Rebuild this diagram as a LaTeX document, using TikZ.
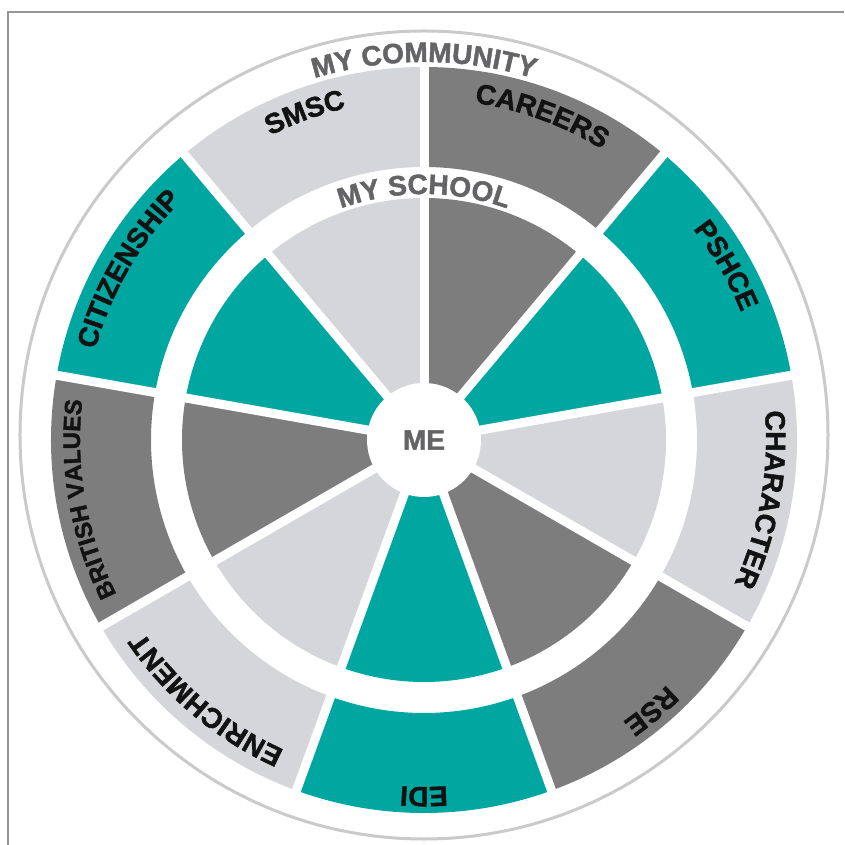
\documentclass[tikz,border=0pt]{standalone}
\usepackage{fontspec}
\setmainfont{Liberation Sans}[BoldFeatures={FakeBold=1.6}]
\usepackage{tikz}
\usepackage{xcolor}
\usetikzlibrary{decorations.text}

\newcommand{\ringfont}{\fontsize{28}{30}\selectfont\bfseries}
\newcommand{\smallringfont}{\fontsize{24}{26}\selectfont\bfseries}

\tikzset{
	gap/.style={line width=9pt, color=white},
	ringlabel/.style={decorate, decoration={text along path, text align=center}}
}

\begin{document}
\begin{tikzpicture}
				\definecolor{TEAL}{RGB}{0, 166, 160}
				\definecolor{DARK_GRAY}{RGB}{125, 125, 125}
				\definecolor{LIGHT_GRAY}{RGB}{213, 214, 217}
				\definecolor{RING_GRAY}{RGB}{202, 202, 202}
				\definecolor{FRAME_GRAY}{RGB}{150, 150, 150}
				\definecolor{TEXT_GRAY}{RGB}{100, 100, 102}
				\definecolor{ALMOST_BLACK}{RGB}{18, 18, 18}
				\useasboundingbox (-424pt, -405pt) rectangle (420pt, 440pt);

				% frame and outer ring
				\draw[line width={1.2pt}, color={FRAME_GRAY}] (-416pt, -405pt) -- (-416pt, 428pt) -- (420pt, 428pt);
				\draw[line width={3pt}, color={RING_GRAY}] (0pt, 5pt) circle[radius=404pt];

				% my community
				\fill[DARK_GRAY] (90:273pt) arc[start angle=90, end angle=50, radius=273pt] -- (50:373pt) arc[start angle=50, end angle=90, radius=373pt] -- cycle;
				\fill[TEAL] (50:273pt) arc[start angle=50, end angle=10, radius=273pt] -- (10:373pt) arc[start angle=10, end angle=50, radius=373pt] -- cycle;
				\fill[LIGHT_GRAY] (10:273pt) arc[start angle=10, end angle=-30, radius=273pt] -- (-30:373pt) arc[start angle=-30, end angle=10, radius=373pt] -- cycle;
				\fill[DARK_GRAY] (-30:273pt) arc[start angle=-30, end angle=-70, radius=273pt] -- (-70:373pt) arc[start angle=-70, end angle=-30, radius=373pt] -- cycle;
				\fill[TEAL] (-70:273pt) arc[start angle=-70, end angle=-110, radius=273pt] -- (-110:373pt) arc[start angle=-110, end angle=-70, radius=373pt] -- cycle;
				\fill[LIGHT_GRAY] (-110:273pt) arc[start angle=-110, end angle=-150, radius=273pt] -- (-150:373pt) arc[start angle=-150, end angle=-110, radius=373pt] -- cycle;
				\fill[DARK_GRAY] (-150:273pt) arc[start angle=-150, end angle=-190, radius=273pt] -- (-190:373pt) arc[start angle=-190, end angle=-150, radius=373pt] -- cycle;
				\fill[TEAL] (170:273pt) arc[start angle=170, end angle=130, radius=273pt] -- (130:373pt) arc[start angle=130, end angle=170, radius=373pt] -- cycle;
				\fill[LIGHT_GRAY] (130:273pt) arc[start angle=130, end angle=90, radius=273pt] -- (90:373pt) arc[start angle=90, end angle=130, radius=373pt] -- cycle;

				% my school
				\fill[DARK_GRAY] (0pt, 0pt) -- (90:242pt) arc[start angle=90, end angle=50, radius=242pt] -- cycle;
				\fill[TEAL] (0pt, 0pt) -- (50:242pt) arc[start angle=50, end angle=10, radius=242pt] -- cycle;
				\fill[LIGHT_GRAY] (0pt, 0pt) -- (10:242pt) arc[start angle=10, end angle=-30, radius=242pt] -- cycle;
				\fill[DARK_GRAY] (0pt, 0pt) -- (-30:242pt) arc[start angle=-30, end angle=-70, radius=242pt] -- cycle;
				\fill[TEAL] (0pt, 0pt) -- (-70:242pt) arc[start angle=-70, end angle=-110, radius=242pt] -- cycle;
				\fill[LIGHT_GRAY] (0pt, 0pt) -- (-110:242pt) arc[start angle=-110, end angle=-150, radius=242pt] -- cycle;
				\fill[DARK_GRAY] (0pt, 0pt) -- (-150:242pt) arc[start angle=-150, end angle=-190, radius=242pt] -- cycle;
				\fill[TEAL] (0pt, 0pt) -- (170:242pt) arc[start angle=170, end angle=130, radius=242pt] -- cycle;
				\fill[LIGHT_GRAY] (0pt, 0pt) -- (130:242pt) arc[start angle=130, end angle=90, radius=242pt] -- cycle;

				% white gaps
				\draw[gap] (0pt, 0pt) -- (90:374pt);
				\draw[gap] (0pt, 0pt) -- (50:374pt);
				\draw[gap] (0pt, 0pt) -- (10:374pt);
				\draw[gap] (0pt, 0pt) -- (-30:374pt);
				\draw[gap] (0pt, 0pt) -- (-70:374pt);
				\draw[gap] (0pt, 0pt) -- (-110:374pt);
				\draw[gap] (0pt, 0pt) -- (-150:374pt);
				\draw[gap] (0pt, 0pt) -- (170:374pt);
				\draw[gap] (0pt, 0pt) -- (130:374pt);

				% me
				\fill[white] (0pt, 0pt) circle[radius=57pt];
				\node[text={TEXT_GRAY}, font={\fontsize{28}{30}\selectfont\bfseries}] (me) at (0pt, 0pt) {ME};

				% ring texts
				\path[ringlabel, decoration={text={|\ringfont\color{TEXT_GRAY}|MY COMMUNITY}}] (130:378pt) arc[start angle=130, end angle=50, radius=378pt];
				\path[ringlabel, decoration={text={|\ringfont\color{TEXT_GRAY}|MY SCHOOL}}] (130:246pt) arc[start angle=130, end angle=50, radius=246pt];

				% segment labels
				\path[ringlabel, decoration={text={|\ringfont\color{ALMOST_BLACK}|SMSC}}] (130:341pt) arc[start angle=130, end angle=90, radius=341pt];
				\path[ringlabel, decoration={text={|\ringfont\color{ALMOST_BLACK}|CAREERS}}] (90:341pt) arc[start angle=90, end angle=50, radius=341pt];
				\path[ringlabel, decoration={text={|\ringfont\color{ALMOST_BLACK}|PSHCE}}] (50:342pt) arc[start angle=50, end angle=10, radius=342pt];
				\path[ringlabel, decoration={text={|\ringfont\color{ALMOST_BLACK}|CHARACTER}}] (10:342pt) arc[start angle=10, end angle=-30, radius=342pt];
				\path[ringlabel, decoration={text={|\ringfont\color{ALMOST_BLACK}|RSE}}] (-30:345pt) arc[start angle=-30, end angle=-70, radius=345pt];
				\path[ringlabel, decoration={text={|\ringfont\color{ALMOST_BLACK}|EDI}}] (-70:347pt) arc[start angle=-70, end angle=-110, radius=347pt];
				\path[ringlabel, decoration={text={|\ringfont\color{ALMOST_BLACK}|ENRICHMENT}}] (-110:340pt) arc[start angle=-110, end angle=-150, radius=340pt];
				\path[ringlabel, decoration={text={|\smallringfont\color{ALMOST_BLACK}|BRITISH VALUES}}] (-150:344pt) arc[start angle=-150, end angle=-190, radius=344pt];
				\path[ringlabel, decoration={text={|\ringfont\color{ALMOST_BLACK}|CITIZENSHIP}}] (170:341pt) arc[start angle=170, end angle=130, radius=341pt];
			\end{tikzpicture}
\end{document}
